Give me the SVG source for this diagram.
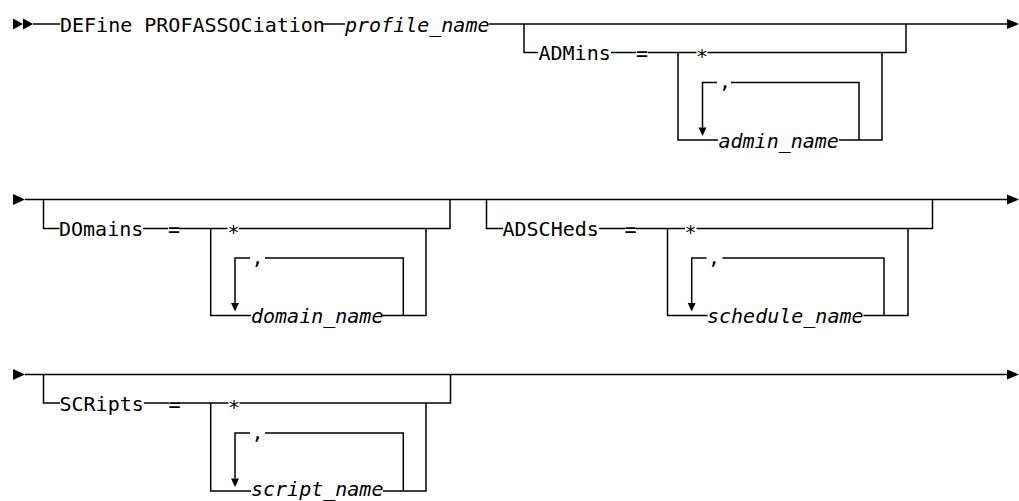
<svg xmlns="http://www.w3.org/2000/svg" width="1019" height="501" viewBox="0 0 1019 501">
<style>
.l{stroke:#000;stroke-width:1.5;fill:none}
.a{fill:#000;stroke:none}
text{font-family:"DejaVu Sans Mono","Liberation Mono",monospace;font-size:20px;fill:#000}
.v{font-style:italic}
.m{text-anchor:middle}
</style>
<rect width="1019" height="501" fill="#fff"/>
<g id="connectors">
<path class="l" d="M33 24H60M323 24H345M489 24H1007"/>
<path class="l" d="M524 24V52.5H538M611 52.5H636M648 52.5H696.5M707.5 52.5H906V24"/>
<path class="l" d="M678 52.5V140H718M839 140H882V52.5"/>
<path class="l" d="M702.5 127.5V82.5H717M731 82.5H859V140"/>
<path class="l" d="M25 199.5H1007"/>
<path class="l" d="M43.5 199.5V228.5H59.5M143 228.5H168M179 228.5H227.5M239 228.5H450V199.5"/>
<path class="l" d="M210.7 228.5V315.5H251M382 315.5H426V228.5"/>
<path class="l" d="M235 303V258H250M265 258H403.3V315.5"/>
<path class="l" d="M486.5 199.5V228.5H503M599 228.5H625M636 228.5H685M696.5 228.5H932.5V199.5"/>
<path class="l" d="M667.5 228.5V315.5H707.5M863.5 315.5H908V228.5"/>
<path class="l" d="M691.7 303V258H706.5M722.5 258H884V315.5"/>
<path class="l" d="M25 374.5H1007"/>
<path class="l" d="M43.5 374.5V403H60M143.8 403H169M179 403H228.5M239.5 403H450.5V374.5"/>
<path class="l" d="M210.7 403V491H251M383 491H426V403"/>
<path class="l" d="M235 478.5V433H250M265 433H403.3V491"/>
<polygon class="a" points="13,18.5 23,24 13,29.5"/>
<polygon class="a" points="23,18.5 33,24 23,29.5"/>
<polygon class="a" points="1007,19 1019,24 1007,29"/>
<polygon class="a" points="698.5,127.5 706.5,127.5 702.5,136"/>
<polygon class="a" points="13,194 25,199.5 13,205"/>
<polygon class="a" points="1007,194.5 1019,199.5 1007,204.5"/>
<polygon class="a" points="231,303 239,303 235,311.5"/>
<polygon class="a" points="687.7,303 695.7,303 691.7,311.5"/>
<polygon class="a" points="13,369 25,374.5 13,380"/>
<polygon class="a" points="1007,369.5 1019,374.5 1007,379.5"/>
<polygon class="a" points="231,478.5 239,478.5 235,487"/>
</g>
<g id="cmd"><text x="60" y="31.5">DEFine PROFASSOCiation</text></g>
<g id="profile_name"><text class="v" x="345" y="31.5">profile_name</text></g>
<g id="admins">
<text x="538.5" y="60">ADMins</text>
<text class="m" x="642" y="60">=</text>
<text class="m" x="702" y="63">*</text>
<text class="m" x="725" y="88">,</text>
<text class="v" x="718.5" y="147.5">admin_name</text>
</g>
<g id="domains">
<text x="59" y="236">DOmains</text>
<text class="m" x="174" y="236">=</text>
<text class="m" x="233.5" y="239">*</text>
<text class="m" x="257.5" y="263.5">,</text>
<text class="v" x="251" y="323">domain_name</text>
</g>
<g id="adscheds">
<text x="502.5" y="236">ADSCHeds</text>
<text class="m" x="630.5" y="236">=</text>
<text class="m" x="690.5" y="239">*</text>
<text class="m" x="714" y="263.5">,</text>
<text class="v" x="707" y="323">schedule_name</text>
</g>
<g id="scripts">
<text x="59.5" y="410.5">SCRipts</text>
<text class="m" x="174.5" y="410.5">=</text>
<text class="m" x="234" y="413.5">*</text>
<text class="m" x="257.5" y="438.5">,</text>
<text class="v" x="251" y="496">script_name</text>
</g>
</svg>
